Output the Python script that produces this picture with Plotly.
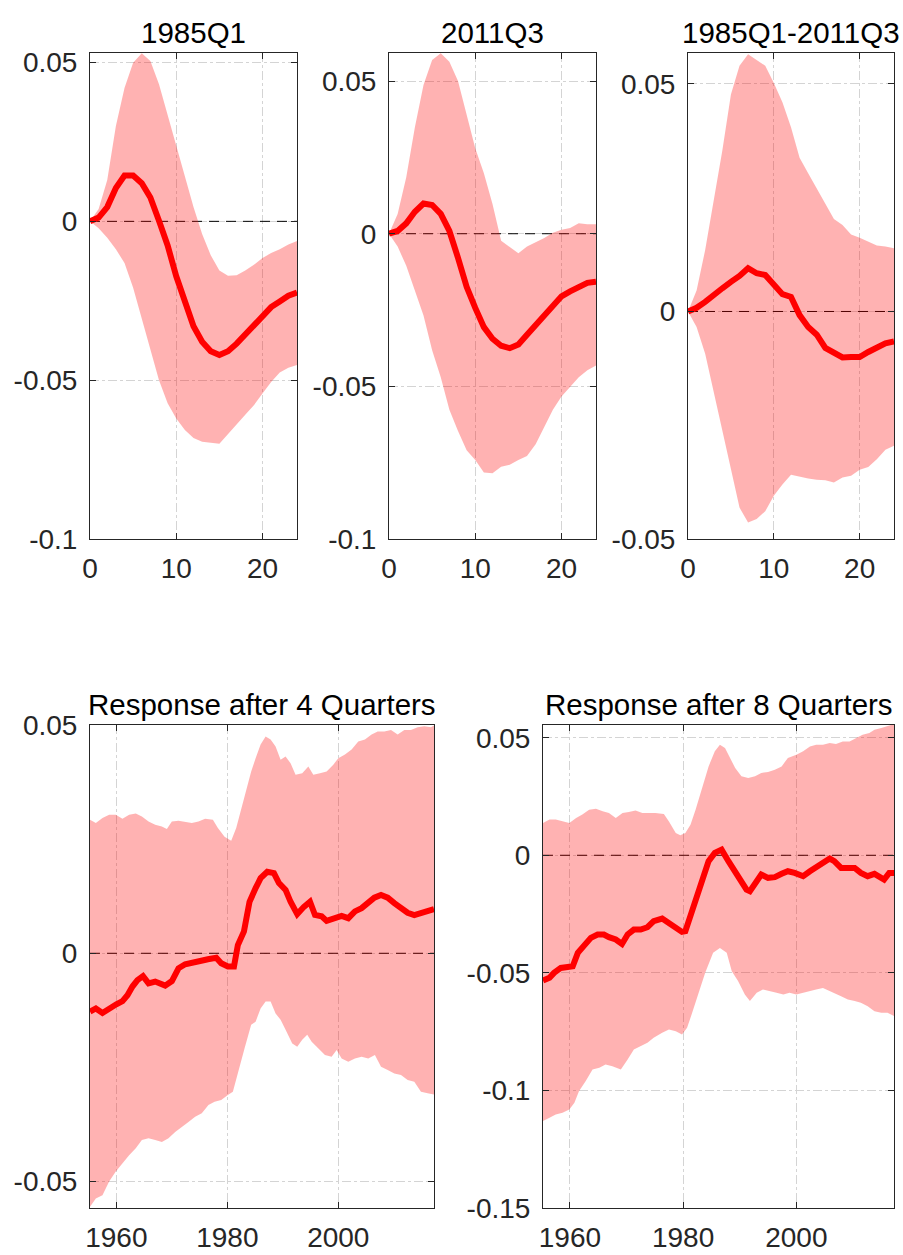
import plotly.graph_objects as go

# ---------------- data: impulse responses (horizons 0..24) ----------------
horizon = list(range(25))

irf_1985_mid = [0, 0.0012, 0.0045, 0.0105, 0.0144, 0.0144, 0.0120, 0.0075, 0.0002, -0.0076,
                -0.0173, -0.0258, -0.0330, -0.0379, -0.0409, -0.0421, -0.0409, -0.0385, -0.0355,
                -0.0324, -0.0294, -0.0270, -0.0252, -0.0234, -0.0224]
irf_1985_hi = [0, 0.0039, 0.0130, 0.0300, 0.0420, 0.0499, 0.0529, 0.0505, 0.0432, 0.0335,
               0.0239, 0.0142, 0.0045, -0.0040, -0.0107, -0.0155, -0.0171, -0.0170, -0.0155,
               -0.0137, -0.0115, -0.0100, -0.0088, -0.0073, -0.0062]
irf_1985_lo = [0, -0.0022, -0.0052, -0.0088, -0.0131, -0.0209, -0.0306, -0.0403, -0.0500, -0.0573,
               -0.0621, -0.0657, -0.0682, -0.0694, -0.0697, -0.0700, -0.0669, -0.0639, -0.0609,
               -0.0579, -0.0542, -0.0506, -0.0476, -0.0461, -0.0452]

irf_2011_mid = [0, 0.0009, 0.0034, 0.0072, 0.0099, 0.0094, 0.0065, 0.0009, -0.0079, -0.0174,
                -0.0243, -0.0306, -0.0344, -0.0367, -0.0375, -0.0363, -0.0331, -0.0300, -0.0268,
                -0.0237, -0.0205, -0.0189, -0.0174, -0.0161, -0.0157]
irf_2011_hi = [0, 0.0065, 0.0185, 0.0349, 0.0487, 0.0569, 0.0591, 0.0563, 0.0500, 0.0387,
               0.0280, 0.0198, 0.0097, -0.0023, -0.0042, -0.0064, -0.0042, -0.0029, -0.0014,
               0.0003, 0.0013, 0.0019, 0.0034, 0.0031, 0.0031]
irf_2011_lo = [0, -0.0042, -0.0105, -0.0186, -0.0268, -0.0382, -0.0470, -0.0577, -0.0646, -0.0709,
               -0.0741, -0.0782, -0.0785, -0.0763, -0.0757, -0.0741, -0.0728, -0.0690, -0.0634,
               -0.0577, -0.0533, -0.0501, -0.0470, -0.0447, -0.0432]

irf_diff_mid = [0, 0.0008, 0.0021, 0.0034, 0.0051, 0.0065, 0.0078, 0.0095, 0.0084, 0.0080,
                0.0059, 0.0038, 0.0032, -0.0008, -0.0034, -0.0051, -0.0080, -0.0091, -0.0101,
                -0.0100, -0.0100, -0.0089, -0.0080, -0.0070, -0.0066]
irf_diff_hi = [0, 0.0046, 0.0135, 0.0245, 0.0354, 0.0477, 0.0540, 0.0565, 0.0553, 0.0540,
               0.0502, 0.0460, 0.0405, 0.0338, 0.0304, 0.0270, 0.0236, 0.0203, 0.0190,
               0.0169, 0.0162, 0.0154, 0.0145, 0.0143, 0.0139]
irf_diff_lo = [0, -0.0034, -0.0093, -0.0177, -0.0262, -0.0346, -0.0431, -0.0464, -0.0456, -0.0439,
               -0.0405, -0.0380, -0.0359, -0.0363, -0.0367, -0.0370, -0.0371, -0.0376, -0.0365,
               -0.0361, -0.0348, -0.0342, -0.0325, -0.0304, -0.0295]

# ---------------- data: response after 4 quarters over time ----------------
q4_mid_x = [1955.25, 1956.3, 1957.5, 1958.7, 1960.0, 1961.1, 1962.0, 1962.9, 1963.8, 1964.8, 1965.8,
            1967.0, 1967.9, 1968.8, 1970.0, 1971.2, 1972.4, 1973.6, 1975.1, 1976.5, 1978.0, 1978.9,
            1980.1, 1981.2, 1981.9, 1983.0, 1984.0, 1985.1, 1986.0, 1987.2, 1988.4, 1989.3, 1990.5,
            1991.4, 1992.6, 1993.8, 1994.9, 1995.8, 1997.0, 1997.9, 1999.1, 2000.6, 2001.8, 2003.0,
            2004.2, 2005.4, 2006.5, 2007.7, 2008.9, 2010.1, 2011.3, 2012.5, 2013.7, 2014.9, 2016.1,
            2017.25]
q4_mid = [-0.0128, -0.0121, -0.0131, -0.0121, -0.0112, -0.0105, -0.0092, -0.0073, -0.0059, -0.0050,
          -0.0066, -0.0062, -0.0066, -0.0071, -0.0061, -0.0033, -0.0024, -0.0022, -0.0017, -0.0013,
          -0.0010, -0.0022, -0.0029, -0.0029, 0.0018, 0.0048, 0.0113, 0.0143, 0.0165, 0.0179, 0.0176,
          0.0154, 0.0139, 0.0113, 0.0086, 0.0102, 0.0113, 0.0084, 0.0081, 0.0071, 0.0077, 0.0082,
          0.0077, 0.0092, 0.0099, 0.0110, 0.0122, 0.0128, 0.0122, 0.0110, 0.0100, 0.0089, 0.0084,
          0.0088, 0.0095, 0.0097]

q4_hi_x = [1955.25, 1956.3, 1957.5, 1958.7, 1959.9, 1961.1, 1962.3, 1963.5, 1964.6, 1965.8, 1967.0,
           1968.2, 1969.1, 1970.0, 1971.2, 1972.4, 1973.6, 1974.8, 1976.0, 1977.4, 1978.3, 1979.5,
           1980.7, 1981.6, 1982.5, 1983.4, 1984.3, 1985.1, 1986.0, 1986.9, 1987.8, 1988.7, 1989.6,
           1990.5, 1991.4, 1992.3, 1993.5, 1994.6, 1995.5, 1996.7, 1997.9, 1999.1, 2000.0, 2001.2,
           2002.4, 2003.6, 2004.8, 2006.0, 2007.1, 2008.3, 2009.5, 2010.7, 2011.9, 2013.1, 2014.3,
           2015.5, 2016.7, 2017.25]
q4_hi = [0.0293, 0.0286, 0.0297, 0.0304, 0.0304, 0.0295, 0.0304, 0.0307, 0.0300, 0.0289, 0.0282,
         0.0278, 0.0273, 0.0289, 0.0291, 0.0289, 0.0286, 0.0289, 0.0295, 0.0293, 0.0275, 0.0256,
         0.0247, 0.0275, 0.0318, 0.0355, 0.0399, 0.0428, 0.0458, 0.0476, 0.0469, 0.0454, 0.0425,
         0.0432, 0.0417, 0.0392, 0.0395, 0.0410, 0.0392, 0.0395, 0.0399, 0.0414, 0.0428, 0.0436,
         0.0447, 0.0465, 0.0469, 0.0480, 0.0487, 0.0487, 0.0490, 0.0480, 0.0490, 0.0490, 0.0496,
         0.0498, 0.0496, 0.0500]

q4_lo_x = [1955.25, 1956.3, 1957.5, 1958.7, 1959.9, 1961.1, 1962.3, 1963.5, 1964.6, 1965.8, 1967.0,
           1968.2, 1969.4, 1970.6, 1971.8, 1973.0, 1974.2, 1975.4, 1976.6, 1977.7, 1978.9, 1980.1,
           1981.0, 1981.9, 1983.1, 1984.3, 1985.1, 1986.0, 1986.9, 1987.8, 1988.7, 1989.6, 1990.5,
           1991.7, 1992.6, 1993.5, 1994.4, 1995.2, 1996.4, 1997.6, 1998.8, 1999.7, 2000.6, 2001.8,
           2003.0, 2004.2, 2005.4, 2006.6, 2007.7, 2008.9, 2010.1, 2011.3, 2012.5, 2013.7, 2014.9,
           2016.1, 2017.25]
q4_lo = [-0.0556, -0.0538, -0.0531, -0.0501, -0.0479, -0.0461, -0.0443, -0.0428, -0.0410, -0.0406,
         -0.0410, -0.0414, -0.0406, -0.0392, -0.0381, -0.0370, -0.0359, -0.0351, -0.0333, -0.0326,
         -0.0322, -0.0311, -0.0304, -0.0264, -0.0209, -0.0157, -0.0150, -0.0121, -0.0106, -0.0106,
         -0.0132, -0.0146, -0.0168, -0.0198, -0.0205, -0.0190, -0.0179, -0.0194, -0.0209, -0.0223,
         -0.0227, -0.0212, -0.0231, -0.0238, -0.0231, -0.0227, -0.0231, -0.0223, -0.0249, -0.0256,
         -0.0264, -0.0267, -0.0278, -0.0282, -0.0304, -0.0307, -0.0310]

# ---------------- data: response after 8 quarters over time ----------------
q8_mid_x = [1955.25, 1956.4, 1957.2, 1958.4, 1959.6, 1960.5, 1961.4, 1962.5, 1963.7, 1964.9, 1966.0,
            1966.9, 1968.1, 1969.2, 1970.2, 1971.3, 1972.5, 1973.7, 1974.8, 1976.3, 1977.5, 1978.7,
            1979.8, 1980.4, 1981.6, 1982.8, 1983.9, 1984.5, 1985.6, 1986.8, 1988.0, 1989.2, 1990.3,
            1991.2, 1991.8, 1992.7, 1993.8, 1995.0, 1996.2, 1997.4, 1998.5, 1999.7, 2001.2, 2002.4,
            2003.5, 2004.7, 2005.9, 2006.7, 2007.9, 2009.1, 2010.3, 2011.4, 2012.6, 2013.8, 2014.7,
            2015.5, 2016.4, 2017.25]
q8_mid = [-0.0533, -0.0521, -0.0500, -0.0479, -0.0475, -0.0472, -0.0415, -0.0380, -0.0351, -0.0337,
          -0.0337, -0.0348, -0.0358, -0.0377, -0.0337, -0.0316, -0.0316, -0.0306, -0.0280, -0.0269,
          -0.0288, -0.0309, -0.0326, -0.0323, -0.0238, -0.0139, -0.0068, -0.0025, 0.0010, 0.0024,
          -0.0025, -0.0068, -0.0110, -0.0146, -0.0153, -0.0118, -0.0082, -0.0096, -0.0093, -0.0079,
          -0.0068, -0.0075, -0.0089, -0.0068, -0.0051, -0.0040, -0.0014, -0.0025, -0.0054, -0.0054,
          -0.0054, -0.0075, -0.0089, -0.0079, -0.0089, -0.0103, -0.0075, -0.0075]

q8_hi_x = [1955.25, 1956.4, 1957.5, 1958.7, 1959.9, 1961.1, 1962.2, 1963.4, 1964.6, 1965.8, 1966.9,
           1968.1, 1969.3, 1970.4, 1971.6, 1972.8, 1974.0, 1975.1, 1976.6, 1977.5, 1978.7, 1979.5,
           1980.4, 1981.3, 1982.2, 1983.3, 1984.5, 1985.6, 1986.5, 1987.4, 1988.3, 1989.2, 1990.3,
           1991.5, 1992.7, 1993.8, 1995.0, 1996.2, 1997.4, 1998.5, 2000.0, 2001.2, 2002.4, 2003.5,
           2004.7, 2005.9, 2007.0, 2008.2, 2009.4, 2010.6, 2011.7, 2012.9, 2013.8, 2015.0, 2016.1,
           2017.25]
q8_hi = [0.0137, 0.0152, 0.0152, 0.0144, 0.0137, 0.0159, 0.0173, 0.0194, 0.0198, 0.0187, 0.0180,
         0.0159, 0.0180, 0.0184, 0.0190, 0.0180, 0.0180, 0.0180, 0.0176, 0.0144, 0.0095, 0.0085,
         0.0095, 0.0130, 0.0194, 0.0286, 0.0378, 0.0442, 0.0470, 0.0456, 0.0414, 0.0371, 0.0336,
         0.0329, 0.0336, 0.0350, 0.0354, 0.0364, 0.0378, 0.0414, 0.0428, 0.0442, 0.0463, 0.0470,
         0.0470, 0.0477, 0.0473, 0.0484, 0.0484, 0.0499, 0.0513, 0.0520, 0.0534, 0.0541, 0.0548,
         0.0558]

q8_lo_x = [1955.25, 1956.4, 1957.5, 1958.7, 1959.9, 1960.8, 1961.6, 1962.8, 1964.0, 1965.2, 1966.3,
           1967.5, 1969.0, 1970.2, 1971.3, 1972.5, 1973.7, 1974.8, 1976.3, 1977.5, 1978.7, 1979.8,
           1980.7, 1981.6, 1982.8, 1983.9, 1985.3, 1986.5, 1987.7, 1988.6, 1989.7, 1990.9, 1991.8,
           1993.0, 1994.1, 1995.3, 1996.5, 1997.7, 1998.8, 2000.0, 2001.2, 2002.4, 2003.5, 2004.7,
           2005.6, 2006.7, 2007.9, 2009.1, 2010.3, 2011.4, 2012.6, 2013.8, 2015.0, 2016.1, 2017.25]
q8_lo = [-0.1130, -0.1116, -0.1102, -0.1095, -0.1081, -0.1052, -0.1003, -0.0960, -0.0911, -0.0904,
         -0.0890, -0.0897, -0.0911, -0.0868, -0.0826, -0.0812, -0.0797, -0.0776, -0.0755, -0.0741,
         -0.0748, -0.0762, -0.0734, -0.0670, -0.0585, -0.0500, -0.0415, -0.0394, -0.0415, -0.0493,
         -0.0535, -0.0592, -0.0620, -0.0585, -0.0571, -0.0578, -0.0585, -0.0592, -0.0585, -0.0592,
         -0.0585, -0.0578, -0.0571, -0.0564, -0.0571, -0.0585, -0.0599, -0.0613, -0.0620, -0.0627,
         -0.0642, -0.0663, -0.0670, -0.0670, -0.0684]

titles = ["1985Q1", "2011Q3", "1985Q1-2011Q3", "Response after 4 Quarters", "Response after 8 Quarters"]

# ---------------- styling ----------------
FONT = "Liberation Sans, Arial, Helvetica, sans-serif"
FS = 28
FS_TITLE = 29.5
TXT = "#262626"
BAND = "rgba(255,0,0,0.30)"
LINE = "#ff0000"

panels = [
    dict(x=horizon, mid=irf_1985_mid, hx=horizon, hi=irf_1985_hi, lx=horizon, lo=irf_1985_lo,
         xdom=[90/903, 297/903], ydom=[1-539/1255, 1-53/1255], xr=[0, 24], yr=[-0.1, 0.053],
         xt=[0, 10, 20], yt=[-0.1, -0.05, 0, 0.05]),
    dict(x=horizon, mid=irf_2011_mid, hx=horizon, hi=irf_2011_hi, lx=horizon, lo=irf_2011_lo,
         xdom=[389/903, 596/903], ydom=[1-539/1255, 1-53/1255], xr=[0, 24], yr=[-0.1, 0.0592],
         xt=[0, 10, 20], yt=[-0.1, -0.05, 0, 0.05]),
    dict(x=horizon, mid=irf_diff_mid, hx=horizon, hi=irf_diff_hi, lx=horizon, lo=irf_diff_lo,
         xdom=[688/903, 894/903], ydom=[1-539/1255, 1-53/1255], xr=[0, 24], yr=[-0.05, 0.0568],
         xt=[0, 10, 20], yt=[-0.05, 0, 0.05]),
    dict(x=q4_mid_x, mid=q4_mid, hx=q4_hi_x, hi=q4_hi, lx=q4_lo_x, lo=q4_lo,
         xdom=[90/903, 434/903], ydom=[1-1208/1255, 1-725/1255], xr=[1955.25, 2017.25], yr=[-0.0559, 0.0501],
         xt=[1960, 1980, 2000], yt=[-0.05, 0, 0.05]),
    dict(x=q8_mid_x, mid=q8_mid, hx=q8_hi_x, hi=q8_hi, lx=q8_lo_x, lo=q8_lo,
         xdom=[543/903, 894/903], ydom=[1-1208/1255, 1-725/1255], xr=[1955.25, 2017.25], yr=[-0.15, 0.0554],
         xt=[1960, 1980, 2000], yt=[-0.15, -0.1, -0.05, 0, 0.05]),
]


def fmt(v):
    return "%g" % v


fig = go.Figure()
layout = dict(
    width=903, height=1255, margin=dict(l=0, r=0, t=0, b=0),
    paper_bgcolor="white", plot_bgcolor="white", showlegend=False,
    font=dict(family=FONT, size=FS, color=TXT),
    annotations=[],
)

for i, p in enumerate(panels):
    n = i + 1
    xa = "x" if n == 1 else f"x{n}"
    ya = "y" if n == 1 else f"y{n}"
    # zero reference line
    fig.add_trace(go.Scatter(x=p["xr"], y=[0, 0], xaxis=xa, yaxis=ya, mode="lines",
                             line=dict(color="#000000", width=1, dash="10px,7px"), hoverinfo="skip"))
    # confidence band
    bx = list(p["hx"]) + list(p["lx"])[::-1]
    by = list(p["hi"]) + list(p["lo"])[::-1]
    fig.add_trace(go.Scatter(x=bx, y=by, xaxis=xa, yaxis=ya, mode="lines", fill="toself",
                             fillcolor=BAND, line=dict(width=0), hoverinfo="skip"))
    # median line
    fig.add_trace(go.Scatter(x=p["x"], y=p["mid"], xaxis=xa, yaxis=ya, mode="lines",
                             line=dict(color=LINE, width=6), hoverinfo="skip"))

    common = dict(showline=True, linecolor=TXT, linewidth=1, mirror="ticks", ticks="inside",
                  ticklen=6, tickcolor=TXT, tickwidth=1, showgrid=True, gridcolor="#d4d4d4",
                  griddash="dashdot", gridwidth=1, zeroline=False, automargin=False,
                  tickfont=dict(family=FONT, size=FS, color=TXT))
    layout["xaxis" if n == 1 else f"xaxis{n}"] = dict(
        common, domain=p["xdom"], range=p["xr"], anchor=ya, tickmode="array",
        tickvals=p["xt"], ticktext=[fmt(v) for v in p["xt"]], ticklabelstandoff=4)
    layout["yaxis" if n == 1 else f"yaxis{n}"] = dict(
        common, domain=p["ydom"], range=p["yr"], anchor=xa, tickmode="array",
        tickvals=p["yt"], ticktext=[fmt(v) for v in p["yt"]], ticklabelstandoff=6)
    layout["annotations"].append(dict(
        text=titles[i], xref="paper", yref="paper", x=(p["xdom"][0] + p["xdom"][1]) / 2,
        y=p["ydom"][1], xanchor="center", yanchor="bottom", yshift=2, showarrow=False,
        font=dict(family=FONT, size=FS_TITLE, color="#000000")))

fig.update_layout(**layout)
fig.write_html("out.html")
